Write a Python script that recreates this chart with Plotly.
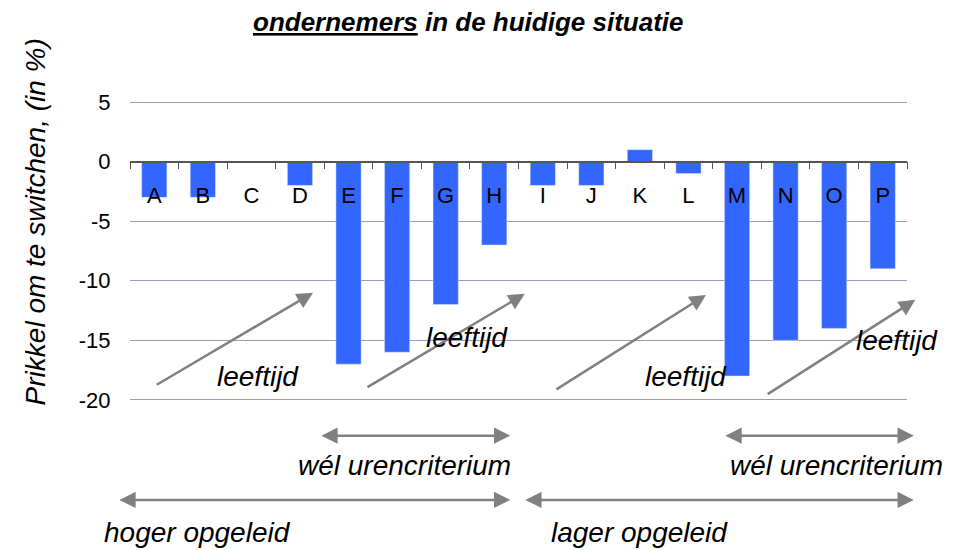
import plotly.graph_objects as go

categories = list('ABCDEFGHIJKLMNOP')
values = [-3, -3, 0, -2, -17, -16, -12, -7, -2, -2, 1, -1, -18, -15, -14, -9]
y_ticks = [5, 0, -5, -10, -15, -20]

bar_color = '#3366ff'
arrow_color = '#808080'
font = 'Liberation Sans, Arial, sans-serif'

y_min, y_max = -32.6, 8.53

fig = go.Figure()
fig.add_trace(go.Bar(x=list(range(len(categories))), y=values, marker_color=bar_color,
                     width=0.52, showlegend=False))
# category letters drawn inside the plot, just under the zero line
fig.add_trace(go.Scatter(x=list(range(len(categories))), y=[-3] * len(categories), mode='text',
                         text=categories, textfont=dict(size=22, color='black', family=font),
                         showlegend=False, hoverinfo='skip'))

annotations = []

# diagonal "leeftijd" arrows
for x0, y0, x1, y1 in [(0.02, -18.8, 3.27, -11.0), (4.36, -19.0, 7.63, -11.1),
                       (8.25, -19.2, 11.36, -11.2), (12.6, -19.6, 15.67, -11.6)]:
    annotations.append(dict(x=x1, y=y1, ax=x0, ay=y0, xref='x', yref='y', axref='x', ayref='y',
                            text='', showarrow=True, arrowhead=2, arrowsize=1.3, arrowwidth=2.5,
                            arrowcolor=arrow_color))

# double headed arrows
for x0, x1, y in [(3.41, 7.33, -23.0), (11.73, 15.64, -23.0), (-0.75, 7.33, -28.4), (7.61, 15.64, -28.4)]:
    annotations.append(dict(x=x1, y=y, ax=x0, ay=y, xref='x', yref='y', axref='x', ayref='y',
                            text='', showarrow=True, arrowhead=2, arrowside='end+start', arrowsize=1.3,
                            arrowwidth=2.5, arrowcolor=arrow_color))

labels = [('leeftijd', 2.14, -18.0), ('leeftijd', 6.44, -14.8), ('leeftijd', 10.95, -18.0),
          ('leeftijd', 15.3, -15.0), ('wél urencriterium', 5.16, -25.5), ('wél urencriterium', 14.04, -25.5),
          ('hoger opgeleid', 0.88, -31.1), ('lager opgeleid', 10.0, -31.1)]
for txt, x, y in labels:
    annotations.append(dict(x=x, y=y, xref='x', yref='y', text='<i>' + txt + '</i>', showarrow=False,
                            font=dict(size=28, color='black', family=font)))

annotations.append(dict(x=-0.122, y=0.669, xref='paper', yref='paper', xanchor='center', yanchor='middle',
                        text='<i>Prikkel om te switchen, (in %)</i>',
                        showarrow=False, textangle=-90, font=dict(size=28, color='black', family=font)))
annotations.append(dict(x=0.436, y=1.078, xref='paper', yref='paper', xanchor='center', yanchor='middle',
                        text='<b><i><u>ondernemers</u> in de huidige situatie</i></b>',
                        showarrow=False, font=dict(size=26, color='black', family=font)))

# page body has an 8px margin, so the figure is 8px smaller each way
fig.update_layout(
    width=955, height=542,
    margin=dict(l=122, r=56, t=52, b=0),
    plot_bgcolor='white', paper_bgcolor='white',
    bargap=0.48,
    annotations=annotations,
    font=dict(family=font, color='black'),
)

fig.update_xaxes(range=[-0.5, 15.5], anchor='free', position=(0 - y_min) / (y_max - y_min),
                 showline=True, linecolor='#555555', linewidth=1.5, ticks='outside', ticklen=7,
                 tickcolor='#555555', tickvals=[i + 0.5 for i in range(-1, 16)], showticklabels=False,
                 showgrid=False, zeroline=False)
fig.update_yaxes(range=[y_min, y_max], tickvals=y_ticks, ticktext=[str(v) for v in y_ticks],
                 showgrid=True, gridcolor='#9a9ac4', gridwidth=1, zeroline=False, showline=False,
                 ticks='outside', ticklen=14, tickcolor='rgba(0,0,0,0)',
                 tickfont=dict(size=22, color='black', family=font))

fig.write_html("out.html")
